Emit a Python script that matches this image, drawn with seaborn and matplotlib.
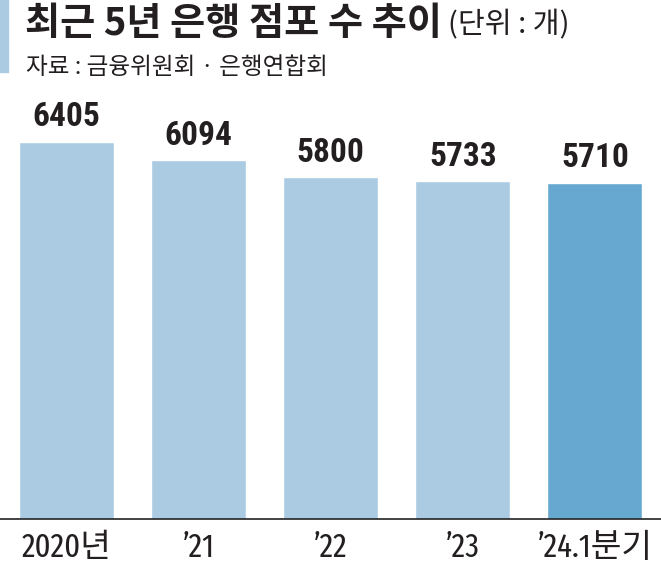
import matplotlib
matplotlib.use("Agg")
import matplotlib.pyplot as plt
import seaborn as sns
import pandas as pd

# ---- data ----
categories = ["2020년", "’21", "’22", "’23", "’24.1분기"]
values = [6405, 6094, 5800, 5733, 5710]
title = "최근 5년 은행 점포 수 추이"
unit = "(단위 : 개)"
source = "자료 : 금융위원회 · 은행연합회"

light = "#abcbe3"
dark = "#66a8d0"
bar_colors = [light, light, light, light, dark]

sns.set_theme(style="white")
plt.rcParams["font.family"] = ["Noto Sans CJK KR", "DejaVu Sans"]

W, H = 661, 567
fig = plt.figure(figsize=(W / 100, H / 100), dpi=100)
ax = fig.add_axes([0, 48 / H, 1, 419 / H])

df = pd.DataFrame({"cat": categories, "val": values})
sns.barplot(data=df, x="cat", y="val", hue="cat", palette=bar_colors,
            legend=False, width=0.72, saturation=1, ax=ax)

ax.set_xlim(-0.5, len(categories) - 0.5)
ax.set_ylim(0, 419 / 0.0589)
ax.set_xlabel("")
ax.set_ylabel("")
ax.set_yticks([])
for s in ["top", "left", "right"]:
    ax.spines[s].set_visible(False)
ax.spines["bottom"].set_color("#222222")
ax.spines["bottom"].set_linewidth(1.2)
ax.tick_params(axis="x", length=0, pad=9)
ax.set_xticks(range(len(categories)))
ax.set_xticklabels(categories, fontsize=24, color="#231f20",
                   family=["Fira Sans Extra Condensed", "Noto Sans CJK KR"])

for i, v in enumerate(values):
    ax.annotate(f"{v}", (i, v), xytext=(0, 6), textcoords="offset points",
                ha="center", va="bottom", fontsize=24, fontweight="bold",
                color="#231f20", family=["Roboto Condensed", "DejaVu Sans"])

# accent bar
fig.patches.append(plt.Rectangle((0, 1 - 72 / H), 8 / W, 72 / H,
                                 transform=fig.transFigure, color=light,
                                 zorder=0))

fig.text(25 / W, 1 - 23 / H, title, fontsize=27.5, fontweight="bold",
         color="#231f20", va="center", ha="left")
fig.text(448 / W, 1 - 25 / H, unit, fontsize=21, color="#231f20",
         va="center", ha="left")
fig.text(26 / W, 1 - 67 / H, source, fontsize=17, color="#231f20",
         va="center", ha="left")

fig.savefig("out.png", dpi=100)
